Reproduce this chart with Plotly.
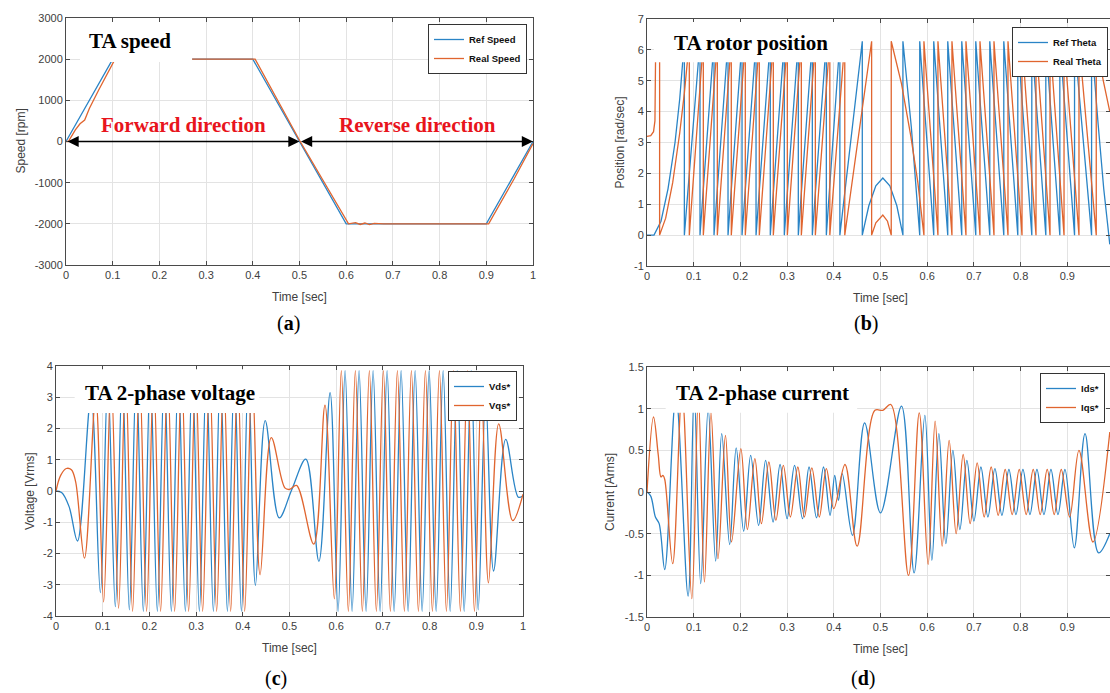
import plotly.graph_objects as go

# ---------------- (a) TA speed ----------------
ref_speed_t = [0, 0.1, 0.4, 0.5, 0.6, 0.9, 1.0]
ref_speed_v = [0, 2000, 2000, 0, -2000, -2000, 0]
real_speed_t = [0, 0.005, 0.02, 0.03, 0.04, 0.05, 0.07, 0.1, 0.105, 0.27, 0.4, 0.405, 0.5, 0.605,
                0.62, 0.63, 0.64, 0.65, 0.66, 0.68, 0.9, 0.905, 0.95, 0.96, 1.0]
real_speed_v = [0, 0, 280, 430, 520, 800, 1250, 1900, 2000, 2000, 2000, 2000, 30, -2000,
                -1970, -2015, -1980, -2020, -1990, -2000, -2000, -2000, -1100, -900, -50]

# ---------------- (b) TA rotor position ----------------
ref_theta_t = [0, 0.015, 0.03, 0.045, 0.06, 0.07, 0.08,
               0.08, 0.1135, 0.1135, 0.1435, 0.1435, 0.1735, 0.1735, 0.2035, 0.2035, 0.2335, 0.2335,
               0.264, 0.264, 0.294, 0.294, 0.324, 0.324, 0.354, 0.354, 0.384, 0.384, 0.413, 0.413,
               0.461, 0.461, 0.475, 0.49, 0.505, 0.52, 0.535, 0.548, 0.548, 0.566, 0.584,
               0.584, 0.614, 0.614, 0.644, 0.644, 0.674, 0.674, 0.704, 0.704, 0.734, 0.734,
               0.764, 0.764, 0.794, 0.794, 0.824, 0.824, 0.854, 0.854, 0.884, 0.884, 0.9155,
               0.9155, 0.952, 0.952, 0.966, 0.978, 0.986, 0.991]
ref_theta_v = [0, 0, 0.45, 1.5, 3.0, 4.4, 6.28,
               0, 6.28, 0, 6.28, 0, 6.28, 0, 6.28, 0, 6.28, 0,
               6.28, 0, 6.28, 0, 6.28, 0, 6.28, 0, 6.28, 0, 6.28, 0,
               6.28, 0, 0.95, 1.6, 1.85, 1.6, 0.95, 0, 6.28, 3.5, 0,
               6.28, 0, 6.28, 0, 6.28, 0, 6.28, 0, 6.28, 0, 6.28,
               0, 6.28, 0, 6.28, 0, 6.28, 0, 6.28, 0, 6.28, 0,
               6.28, 0, 6.28, 3.6, 1.5, 0.4, -0.3]
real_theta_t = [0, 0.008, 0.014, 0.017, 0.0185, 0.027, 0.027, 0.04, 0.055, 0.07, 0.08, 0.0906,
                0.0906, 0.1206, 0.1206, 0.1506, 0.1506, 0.1805, 0.1805, 0.2105, 0.2105, 0.2405,
                0.2405, 0.2705, 0.2705, 0.3005, 0.3005, 0.3305, 0.3305, 0.3605, 0.3605, 0.3915,
                0.3915, 0.4235, 0.4235, 0.481, 0.481, 0.49, 0.505, 0.515, 0.523, 0.523, 0.545,
                0.565, 0.58, 0.593, 0.593, 0.623, 0.623, 0.653, 0.653, 0.683, 0.683, 0.713,
                0.713, 0.743, 0.743, 0.773, 0.773, 0.803, 0.803, 0.833, 0.833, 0.863, 0.863,
                0.893, 0.893, 0.925, 0.925, 0.962, 0.962, 0.977, 0.991]
real_theta_v = [3.2, 3.22, 3.35, 3.7, 6.0, 6.2, 0, 0.55, 1.7, 3.3, 4.6, 6.28,
                0, 6.28, 0, 6.28, 0, 6.28, 0, 6.28, 0, 6.28,
                0, 6.28, 0, 6.28, 0, 6.28, 0, 6.28, 0, 6.28,
                0, 6.28, 0, 6.28, 0, 0.4, 0.65, 0.45, 0, 6.28, 4.9,
                3.2, 1.7, 0, 6.28, 0, 6.28, 0, 6.28, 0, 6.28, 0,
                6.28, 0, 6.28, 0, 6.28, 0, 6.28, 0, 6.28, 0, 6.28,
                0, 6.28, 0, 6.28, 0, 6.28, 5.0, 4.0]

# ---------------- (c) TA 2-phase voltage ----------------
vds_t = [0, 0.012, 0.028, 0.046, 0.075, 0.095, 0.111, 0.127, 0.142, 0.157, 0.172, 0.187, 0.202,
         0.217, 0.232, 0.247, 0.262, 0.277, 0.292, 0.307, 0.322, 0.337, 0.352, 0.367, 0.382, 0.397,
         0.412, 0.427, 0.448, 0.478, 0.505, 0.535, 0.563, 0.587, 0.604, 0.619, 0.634, 0.649, 0.664,
         0.679, 0.694, 0.709, 0.724, 0.739, 0.754, 0.769, 0.784, 0.799, 0.814, 0.829, 0.844, 0.859,
         0.874, 0.889, 0.904, 0.92, 0.937, 0.963, 0.99, 1.0]
vds_v = [0, -0.05, -0.5, -1.6, 3.0, -3.25, 3.6, -3.7, 3.8, -3.8, 3.85, -3.85, 3.85,
         -3.85, 3.85, -3.85, 3.85, -3.85, 3.85, -3.85, 3.85, -3.85, 3.85, -3.85, 3.85, -3.85,
         3.85, -3.02, 2.25, -0.86, 0.05, 1.02, -2.25, 3.15, -3.85, 3.85, -3.85, 3.85, -3.85,
         3.85, -3.85, 3.85, -3.85, 3.85, -3.85, 3.85, -3.85, 3.85, -3.85, 3.85, -3.85, 3.85,
         -3.85, 3.85, -3.8, 3.0, -2.56, 1.65, -0.2, -0.15]
vqs_t = [0, 0.01, 0.022, 0.033, 0.042, 0.061, 0.085, 0.102, 0.118, 0.134, 0.149, 0.164, 0.179,
         0.194, 0.209, 0.224, 0.239, 0.254, 0.269, 0.284, 0.299, 0.314, 0.329, 0.344, 0.359, 0.374,
         0.389, 0.404, 0.42, 0.437, 0.461, 0.49, 0.5, 0.515, 0.552, 0.576, 0.596, 0.611, 0.626,
         0.641, 0.656, 0.671, 0.686, 0.701, 0.716, 0.731, 0.746, 0.761, 0.776, 0.791, 0.806, 0.821,
         0.836, 0.851, 0.866, 0.881, 0.896, 0.911, 0.926, 0.948, 0.978, 1.0]
vqs_v = [0, 0.5, 0.72, 0.68, 0.3, -2.15, 3.0, -3.55, 3.7, -3.75, 3.85, -3.85, 3.85,
         -3.85, 3.85, -3.85, 3.85, -3.85, 3.85, -3.85, 3.85, -3.85, 3.85, -3.85, 3.85, -3.85,
         3.85, -3.85, 3.85, -2.68, 1.71, 0.1, 0.05, 0.18, -1.7, 2.75, -3.45, 3.85, -3.85,
         3.85, -3.85, 3.85, -3.85, 3.85, -3.85, 3.85, -3.85, 3.85, -3.85, 3.85, -3.85, 3.85,
         -3.85, 3.85, -3.85, 3.85, -3.85, 3.4, -2.94, 2.15, -0.95, -0.1]

# ---------------- (d) TA 2-phase current ----------------
ids_t = [0, 0.008, 0.018, 0.026, 0.038, 0.062, 0.088, 0.101, 0.115, 0.131, 0.147, 0.16, 0.177,
         0.191, 0.207, 0.222, 0.239, 0.254, 0.27, 0.285, 0.3, 0.316, 0.333, 0.347, 0.363, 0.378,
         0.392, 0.402, 0.41, 0.418, 0.44, 0.466, 0.5, 0.545, 0.572, 0.595, 0.61, 0.625, 0.64,
         0.655, 0.67, 0.685, 0.7, 0.715, 0.73, 0.745, 0.76, 0.775, 0.79, 0.805, 0.82, 0.835,
         0.85, 0.865, 0.88, 0.895, 0.915, 0.938, 0.967, 0.991]
ids_v = [0, -0.05, -0.3, -0.38, -0.93, 1.15, -1.25, 1.2, -1.1, 1.0, -0.83, 0.7, -0.63,
         0.53, -0.47, 0.44, -0.4, 0.38, -0.36, 0.33, -0.32, 0.32, -0.32, 0.3, -0.31, 0.3,
         -0.28, 0.2, -0.1, 0.22, -0.52, 0.83, -0.25, 1.03, -0.97, 0.92, -0.82, 0.7, -0.62,
         0.5, -0.45, 0.38, -0.35, 0.3, -0.3, 0.28, -0.28, 0.27, -0.27, 0.27, -0.27, 0.27,
         -0.27, 0.27, -0.27, 0.27, -0.67, 0.7, -0.73, -0.5]
iqs_t = [0, 0.014, 0.024, 0.03, 0.034, 0.038, 0.055, 0.075, 0.096, 0.11, 0.123, 0.137, 0.152,
         0.168, 0.181, 0.201, 0.215, 0.231, 0.245, 0.261, 0.276, 0.292, 0.307, 0.323, 0.337,
         0.353, 0.369, 0.384, 0.4, 0.424, 0.45, 0.488, 0.505, 0.522, 0.56, 0.583, 0.602, 0.617,
         0.632, 0.647, 0.662, 0.677, 0.692, 0.707, 0.722, 0.737, 0.752, 0.767, 0.782, 0.797,
         0.812, 0.827, 0.842, 0.857, 0.872, 0.887, 0.905, 0.925, 0.955, 0.991]
iqs_v = [0, 0.9, 0.45, 0.18, 0.2, 0.15, -0.86, 1.2, -1.28, 1.15, -1.08, 0.95, -0.8,
         0.68, -0.6, 0.52, -0.45, 0.4, -0.38, 0.36, -0.34, 0.32, -0.3, 0.3, -0.3,
         0.29, -0.3, 0.28, -0.2, 0.33, -0.65, 0.98, 0.98, 1.05, -1.0, 0.95, -0.87, 0.85,
         -0.65, 0.62, -0.5, 0.45, -0.38, 0.35, -0.3, 0.3, -0.28, 0.27, -0.27, 0.27,
         -0.27, 0.27, -0.27, 0.27, -0.27, 0.27, -0.3, 0.5, -0.6, 0.72]

# tick labels
time_ticks = [0, 0.1, 0.2, 0.3, 0.4, 0.5, 0.6, 0.7, 0.8, 0.9, 1.0]
time_labels = ["0", "0.1", "0.2", "0.3", "0.4", "0.5", "0.6", "0.7", "0.8", "0.9", "1"]
speed_ticks = [-3000, -2000, -1000, 0, 1000, 2000, 3000]
speed_labels = ["-3000", "-2000", "-1000", "0", "1000", "2000", "3000"]
pos_ticks = [-1, 0, 1, 2, 3, 4, 5, 6, 7]
pos_labels = ["-1", "0", "1", "2", "3", "4", "5", "6", "7"]
volt_ticks = [-4, -3, -2, -1, 0, 1, 2, 3, 4]
volt_labels = ["-4", "-3", "-2", "-1", "0", "1", "2", "3", "4"]
cur_ticks = [-1.5, -1, -0.5, 0, 0.5, 1, 1.5]
cur_labels = ["-1.5", "-1", "-0.5", "0", "0.5", "1", "1.5"]

BLUE = "#2a84c6"
ORANGE = "#e0652f"
LW = 1.3

fig = go.Figure()
fig.add_trace(go.Scatter(x=ref_speed_t, y=ref_speed_v, name="Ref Speed", mode="lines",
                         line=dict(color=BLUE, width=LW), xaxis="x", yaxis="y", legend="legend"))
fig.add_trace(go.Scatter(x=real_speed_t, y=real_speed_v, name="Real Speed", mode="lines",
                         line=dict(color=ORANGE, width=LW), xaxis="x", yaxis="y", legend="legend"))
fig.add_trace(go.Scatter(x=ref_theta_t, y=ref_theta_v, name="Ref Theta", mode="lines",
                         line=dict(color=BLUE, width=LW), xaxis="x2", yaxis="y2", legend="legend2"))
fig.add_trace(go.Scatter(x=real_theta_t, y=real_theta_v, name="Real Theta", mode="lines",
                         line=dict(color=ORANGE, width=LW), xaxis="x2", yaxis="y2", legend="legend2"))
fig.add_trace(go.Scatter(x=vds_t, y=vds_v, name="Vds*", mode="lines",
                         line=dict(color=BLUE, width=LW, shape="spline", smoothing=1),
                         xaxis="x3", yaxis="y3", legend="legend3"))
fig.add_trace(go.Scatter(x=vqs_t, y=vqs_v, name="Vqs*", mode="lines",
                         line=dict(color=ORANGE, width=LW, shape="spline", smoothing=1),
                         xaxis="x3", yaxis="y3", legend="legend3"))
fig.add_trace(go.Scatter(x=ids_t, y=ids_v, name="Ids*", mode="lines",
                         line=dict(color=BLUE, width=LW, shape="spline", smoothing=1),
                         xaxis="x4", yaxis="y4", legend="legend4"))
fig.add_trace(go.Scatter(x=iqs_t, y=iqs_v, name="Iqs*", mode="lines",
                         line=dict(color=ORANGE, width=LW, shape="spline", smoothing=1),
                         xaxis="x4", yaxis="y4", legend="legend4"))

W, H = 1110, 693
TICKFONT = dict(family="Liberation Sans, Arial, sans-serif", size=11, color="#404040")


def ax(domain, rng, tickvals, ticktext, anchor):
    return dict(domain=domain, range=rng, tickvals=tickvals, ticktext=ticktext, anchor=anchor,
                showgrid=True, gridcolor="#e3e3e3", gridwidth=1, zeroline=False,
                showline=True, linecolor="#4a4a4a", linewidth=1, mirror="ticks",
                ticks="inside", ticklen=4, tickcolor="#4a4a4a", tickfont=TICKFONT,
                fixedrange=True)


def px_x(p):
    return p / W


def px_y(p):
    return 1 - p / H


b_right = (W - 647) / 467.0

fig.update_layout(
    width=W, height=H, margin=dict(l=0, r=0, t=0, b=0, autoexpand=False),
    paper_bgcolor="white", plot_bgcolor="white",
    xaxis=ax([px_x(66), px_x(533)], [0, 1], time_ticks, time_labels, "y"),
    yaxis=ax([px_y(265), px_y(18)], [-3000, 3000], speed_ticks, speed_labels, "x"),
    xaxis2=ax([px_x(647), 1.0], [0, b_right], time_ticks, time_labels, "y2"),
    yaxis2=ax([px_y(266), px_y(19)], [-1, 7], pos_ticks, pos_labels, "x2"),
    xaxis3=ax([px_x(56), px_x(523)], [0, 1], time_ticks, time_labels, "y3"),
    yaxis3=ax([px_y(616), px_y(366)], [-4, 4], volt_ticks, volt_labels, "x3"),
    xaxis4=ax([px_x(647), 1.0], [0, b_right], time_ticks, time_labels, "y4"),
    yaxis4=ax([px_y(617), px_y(367)], [-1.5, 1.5], cur_ticks, cur_labels, "x4"),
    showlegend=True,
)

LEG = dict(bgcolor="white", bordercolor="#333333", borderwidth=1, tracegroupgap=0,
           font=dict(family="Liberation Sans, Arial, sans-serif", size=9.5, color="#111111",
                     weight="bold"),
           itemwidth=30)
fig.update_layout(
    legend=dict(LEG, x=px_x(527), y=px_y(24), xanchor="right", yanchor="top"),
    legend2=dict(LEG, x=px_x(1108), y=px_y(27), xanchor="right", yanchor="top"),
    legend3=dict(LEG, x=px_x(517), y=px_y(371), xanchor="right", yanchor="top"),
    legend4=dict(LEG, x=px_x(1040), y=px_y(373), xanchor="left", yanchor="top"),
)

# opaque title boxes that hide the traces underneath (as in the original figure)
shapes = [
    dict(xref="x", yref="y", x0=0.03, x1=0.27, y0=1930, y1=2900),
    dict(xref="x2", yref="y2", x0=0.015, x1=0.435, y0=5.6, y1=6.9),
    dict(xref="x3", yref="y3", x0=0.04, x1=0.435, y0=2.5, y1=3.9),
    dict(xref="x4", yref="y4", x0=0.04, x1=0.45, y0=0.95, y1=1.45),
]
for s in shapes:
    s.update(type="rect", fillcolor="white", line=dict(width=0), layer="above")
fig.update_layout(shapes=shapes)

SERIF = "Liberation Serif, Times New Roman, serif"
SANS = "Liberation Sans, Arial, sans-serif"
ann = []
# panel titles
for txt, x, y in [("TA speed", 130, 41), ("TA rotor position", 751, 43),
                  ("TA 2-phase voltage", 170, 393), ("TA 2-phase current", 762, 393)]:
    ann.append(dict(text="<b>%s</b>" % txt, x=px_x(x), y=px_y(y), xref="paper", yref="paper",
                    xanchor="center", yanchor="middle", showarrow=False,
                    font=dict(family=SERIF, size=21, color="black")))
# direction labels
for txt, x in [("Forward direction", 183), ("Reverse direction", 417)]:
    ann.append(dict(text="<b>%s</b>" % txt, x=px_x(x), y=px_y(125), xref="paper", yref="paper",
                    xanchor="center", yanchor="middle", showarrow=False,
                    font=dict(family=SERIF, size=21, color="#e8141c")))
# double-headed arrows
for x0, x1 in [(0, 0.5), (0.5, 1.0)]:
    ann.append(dict(x=x1, y=0, ax=x0, ay=0, xref="x", yref="y", axref="x", ayref="y", text="",
                    showarrow=True, arrowhead=2, startarrowhead=2, arrowside="end+start",
                    arrowsize=1.4, startarrowsize=1.4, arrowwidth=1.6, arrowcolor="black"))
# axis titles
for txt, x, y, ang in [("Speed [rpm]", 20, 141.5, -90), ("Time [sec]", 299.5, 297, 0),
                       ("Position [rad/sec]", 620, 142.5, -90), ("Time [sec]", 880.5, 298, 0),
                       ("Voltage [Vrms]", 30, 491, -90), ("Time [sec]", 289.5, 648, 0),
                       ("Current [Arms]", 610, 492, -90), ("Time [sec]", 880, 649, 0)]:
    ann.append(dict(text=txt, x=px_x(x), y=px_y(y), xref="paper", yref="paper", showarrow=False,
                    xanchor="center", yanchor="middle", textangle=ang,
                    font=dict(family=SANS, size=12, color="#404040")))
# sub-figure labels
for lab, x, y in [("a", 288, 324), ("b", 866, 324), ("c", 276, 678), ("d", 863, 678)]:
    ann.append(dict(text="(<b>%s</b>)" % lab, x=px_x(x), y=px_y(y), xref="paper", yref="paper",
                    xanchor="center", yanchor="middle", showarrow=False,
                    font=dict(family=SERIF, size=20, color="black")))
fig.update_layout(annotations=ann)

fig.write_html("out.html", config={"displayModeBar": False, "staticPlot": True},
               post_script="document.body.style.margin='0px';document.body.style.padding='0px';"
                           "document.body.style.overflow='hidden';")
